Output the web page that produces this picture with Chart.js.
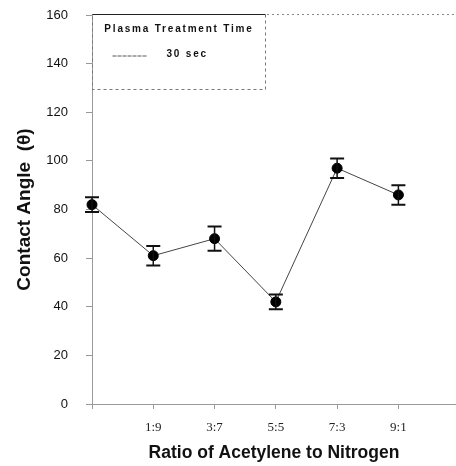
<!DOCTYPE html>
<html>
<head>
<meta charset="utf-8">
<script src="https://cdn.jsdelivr.net/npm/chart.js@4"></script>
<style>
  html, body { margin: 0; padding: 0; background: #fff; }
  #wrap { width: 456px; height: 466px; }
</style>
</head>
<body>
<div id="wrap"><canvas id="lineChart" width="456" height="466"></canvas></div>
<script>
// values
const ratioLabels = ['', '1:9', '3:7', '5:5', '7:3', '9:1'];
const contactAngle = [82, 61, 68, 42, 97, 86];
const angleError = [3, 4, 5, 3, 4, 4];
const yTicks = [0, 20, 40, 60, 80, 100, 120, 140, 160];
const seriesName = '30 sec';
const legendTitle = 'Plasma Treatment Time';

// error bars drawn from the scales
const errorBars = {
  id: 'errorBars',
  afterDatasetsDraw(chart) {
    let ctx = chart.ctx;
    let x = chart.scales.x;
    let y = chart.scales.y;
    ctx.save();
    ctx.strokeStyle = '#111';
    for (let i = 0; i < contactAngle.length; i++) {
      let px = x.getPixelForValue(i);
      let top = y.getPixelForValue(contactAngle[i] + angleError[i]);
      let bot = y.getPixelForValue(contactAngle[i] - angleError[i]);
      ctx.lineWidth = 1.5;
      ctx.beginPath();
      ctx.moveTo(px, top);
      ctx.lineTo(px, bot);
      ctx.stroke();
      ctx.lineWidth = 2;
      ctx.beginPath();
      ctx.moveTo(px - 7, top);
      ctx.lineTo(px + 7, top);
      ctx.moveTo(px - 7, bot);
      ctx.lineTo(px + 7, bot);
      ctx.stroke();
    }
    ctx.restore();
  },
};

// dotted top frame and the boxed legend
const frameAndLegend = {
  id: 'frameAndLegend',
  afterDraw(chart) {
    let ctx = chart.ctx;
    let area = chart.chartArea;
    ctx.save();
    ctx.strokeStyle = '#888';
    ctx.lineWidth = 1;
    ctx.setLineDash([2, 3]);
    ctx.beginPath();
    ctx.moveTo(area.left, area.top - 0.5);
    ctx.lineTo(area.right, area.top - 0.5);
    ctx.stroke();

    let bx = area.left + 0.5;
    let by = area.top - 0.5;
    let bw = 173;
    let bh = 75;
    ctx.strokeStyle = '#222';
    ctx.setLineDash([]);
    ctx.beginPath();
    ctx.moveTo(bx, by);
    ctx.lineTo(bx + bw, by);
    ctx.stroke();
    ctx.strokeStyle = '#777';
    ctx.setLineDash([3, 3]);
    ctx.beginPath();
    ctx.moveTo(bx + bw, by);
    ctx.lineTo(bx + bw, by + bh);
    ctx.lineTo(bx, by + bh);
    ctx.lineTo(bx, by);
    ctx.stroke();

    ctx.setLineDash([]);
    ctx.fillStyle = '#111';
    ctx.font = 'bold 10px "Liberation Sans", Arial, sans-serif';
    ctx.letterSpacing = '1.8px';
    ctx.textBaseline = 'middle';
    ctx.textAlign = 'center';
    ctx.fillText(legendTitle, bx + bw / 2, by + 15);
    ctx.textAlign = 'left';
    ctx.fillText(chart.data.datasets[0].label, bx + 74, by + 40);
    ctx.strokeStyle = '#555';
    ctx.setLineDash([4, 1]);
    ctx.beginPath();
    ctx.moveTo(bx + 20, by + 41.5);
    ctx.lineTo(bx + 55, by + 41.5);
    ctx.stroke();
    ctx.restore();
  },
};

let ctxL = document.getElementById('lineChart').getContext('2d');
let myLineChart = new Chart(ctxL, {
  type: 'line',
  data: {
    datasets: [
      {
        label: seriesName,
        data: contactAngle.map((v, i) => ({ x: i, y: v })),
        borderColor: '#444',
        borderWidth: 1,
        backgroundColor: '#000',
        pointBackgroundColor: '#000',
        pointBorderColor: '#000',
        pointRadius: 5,
        clip: false,
        tension: 0,
      },
    ],
  },
  options: {
    responsive: false,
    animation: false,
    layout: { autoPadding: false, padding: { left: 0, right: 0, top: 15, bottom: 0 } },
    plugins: {
      legend: { display: false },
      tooltip: { enabled: false },
    },
    scales: {
      x: {
        type: 'linear',
        min: 0,
        max: 5.94,
        afterFit: (s) => {
          s.height = 62;
          s.paddingLeft = 0;
          s.paddingRight = 0;
        },
        afterBuildTicks: (s) => {
          s.ticks = ratioLabels.map((l, i) => ({ value: i }));
        },
        ticks: {
          stepSize: 1,
          includeBounds: false,
          padding: 11,
          color: '#222',
          font: { family: '"Liberation Serif", "Times New Roman", serif', size: 13 },
          callback: (v) => ratioLabels[v] || '',
        },
        grid: { drawOnChartArea: false, tickLength: 5, color: '#999' },
        border: { color: '#999', dash: [2, 3] },
        title: {
          display: true,
          text: 'Ratio of Acetylene to Nitrogen',
          color: '#111',
          font: { family: '"Liberation Sans", Arial, sans-serif', size: 17.5, weight: 'bold' },
          padding: { top: 0, bottom: 2 },
        },
      },
      y: {
        min: 0,
        max: 160,
        afterFit: (s) => {
          s.width = 92;
          s.paddingTop = 0;
          s.paddingBottom = 0;
        },
        afterBuildTicks: (s) => {
          s.ticks = yTicks.map((v) => ({ value: v }));
        },
        ticks: {
          stepSize: 20,
          padding: 18,
          color: '#111',
          font: { family: '"Liberation Sans", Arial, sans-serif', size: 13 },
        },
        grid: { drawOnChartArea: false, tickLength: 6, color: '#999' },
        border: { color: '#999', dash: [2, 3] },
        title: {
          display: true,
          text: 'Contact Angle  (\u03B8)',
          color: '#111',
          font: { family: '"Liberation Sans", Arial, sans-serif', size: 19, weight: 'bold' },
          padding: { top: 13, bottom: 0 },
        },
      },
    },
  },
  plugins: [errorBars, frameAndLegend],
});
</script>
</body>
</html>
